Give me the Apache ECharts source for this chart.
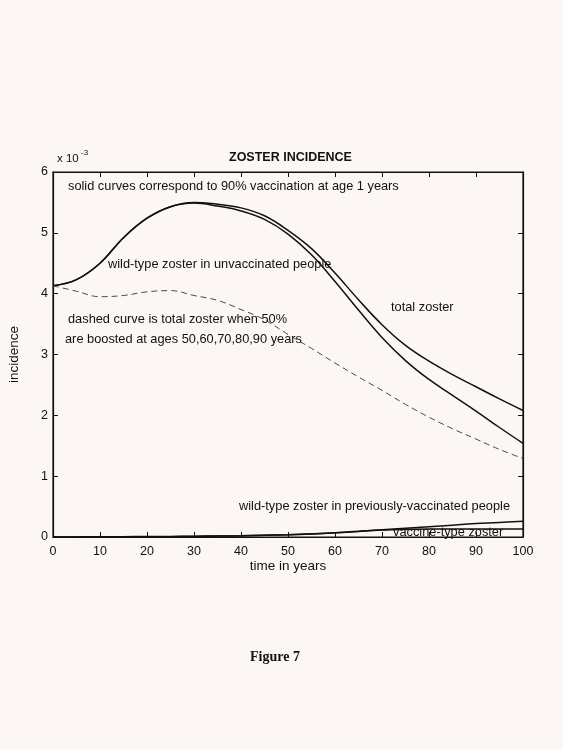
<!DOCTYPE html>
<html>
<head>
<meta charset="utf-8">
<script src="https://cdn.jsdelivr.net/npm/echarts@6/dist/echarts.min.js"></script>
<style>
  html, body { margin: 0; padding: 0; background: #fcf7f4; }
  #chart { width: 563px; height: 750px; }
</style>
</head>
<body>
<div id="chart"></div>
<script>
// time in years
const years = [0, 5, 10, 15, 20, 25, 30, 35, 40, 45, 50, 55, 60, 65, 70, 75, 80, 85, 90, 95, 100];
// incidence, in units of 1e-3
const totalZoster = [4.13, 4.23, 4.50, 4.92, 5.24, 5.43, 5.50, 5.47, 5.41, 5.28, 5.04, 4.74, 4.34, 3.90, 3.49, 3.15, 2.89, 2.67, 2.47, 2.27, 2.08];
const wildUnvacc = [4.13, 4.23, 4.50, 4.92, 5.24, 5.43, 5.49, 5.44, 5.36, 5.22, 4.98, 4.64, 4.20, 3.73, 3.28, 2.90, 2.59, 2.33, 2.07, 1.80, 1.54];
const boostedTotal = [4.13, 4.04, 3.95, 3.97, 4.03, 4.05, 3.97, 3.89, 3.74, 3.57, 3.33, 3.10, 2.86, 2.63, 2.41, 2.18, 1.97, 1.78, 1.61, 1.44, 1.29];
const wildPrevVacc = [0, 0, 0, 0, 0.003, 0.006, 0.01, 0.015, 0.02, 0.028, 0.037, 0.05, 0.068, 0.092, 0.12, 0.145, 0.17, 0.195, 0.22, 0.24, 0.26];
const vaccineType = [0, 0.002, 0.004, 0.006, 0.008, 0.01, 0.013, 0.016, 0.02, 0.028, 0.038, 0.052, 0.07, 0.095, 0.115, 0.125, 0.13, 0.13, 0.13, 0.13, 0.13];
const xTicks = [0, 10, 20, 30, 40, 50, 60, 70, 80, 90, 100];
const yTicks = [0, 1, 2, 3, 4, 5, 6];

const font = 'Liberation Sans, Arial, sans-serif';
const chart = echarts.init(document.getElementById('chart'));

const pairs = arr => years.map((t, i) => [t, arr[i]]);
const line = (name, arr, dashed, axis) => ({
    name: name,
    type: 'line',
    xAxisIndex: axis || 0,
    yAxisIndex: axis || 0,
    data: pairs(arr),
    smooth: 0.4,
    symbol: 'none',
    silent: true,
    lineStyle: dashed
        ? {color: '#333', width: 0.9, type: [6, 4]}
        : {color: '#111', width: 1.5},
});

const axisBase = {
    type: 'value',
    axisLine: {show: true, onZero: false, lineStyle: {color: '#111', width: 1.2}},
    axisTick: {show: true, inside: true, length: 5, lineStyle: {color: '#111'}},
    splitLine: {show: false},
};
const xRange = {min: xTicks[0], max: xTicks[xTicks.length - 1], interval: 10};
const yRange = {min: yTicks[0], max: yTicks[yTicks.length - 1], interval: 1};

const note = (x, y, text, extra) => ({
    type: 'text',
    left: x,
    top: y,
    style: Object.assign({text: text, fill: '#111', font: '12.8px ' + font}, extra || {}),
});

chart.setOption({
    backgroundColor: '#fcf7f4',
    animation: false,
    grid: {left: 53, right: 40, top: 172, bottom: 213, outerBoundsMode: 'none',
        show: true, borderColor: '#111', borderWidth: 1.2},
    xAxis: [
        Object.assign({}, axisBase, xRange, {
            position: 'bottom',
            axisLabel: {color: '#111', fontSize: 12.5, fontFamily: font, margin: 8},
            name: 'time in years', nameLocation: 'middle', nameGap: 20,
            nameTextStyle: {color: '#111', fontSize: 13.5, fontFamily: font},
        }),
        Object.assign({}, axisBase, xRange, {
            position: 'top', axisLabel: {show: false},
        }),
    ],
    yAxis: [
        Object.assign({}, axisBase, yRange, {
            position: 'left',
            axisLabel: {color: '#111', fontSize: 12.5, fontFamily: font, margin: 5},
            name: 'incidence', nameLocation: 'middle', nameGap: 32, nameRotate: 90,
            nameTextStyle: {color: '#111', fontSize: 13.5, fontFamily: font},
        }),
        Object.assign({}, axisBase, yRange, {
            position: 'right', axisLabel: {show: false},
        }),
    ],
    series: [
        line('total zoster', totalZoster, false),
        line('wild-type zoster in unvaccinated people', wildUnvacc, false),
        line('dashed curve', boostedTotal, true),
        line('wild-type zoster in previously-vaccinated people', wildPrevVacc, false),
        line('vaccine-type zoster', vaccineType, false, 1),
    ],
    graphic: [
        note(229, 151, 'ZOSTER INCIDENCE', {font: 'bold 12.5px ' + font}),
        note(57, 153, 'x 10', {font: '11.5px ' + font}),
        note(81, 149, '-3', {font: '8px ' + font}),
        note(68, 180, 'solid curves correspond to 90% vaccination at age 1 years'),
        note(108, 258, 'wild-type zoster in unvaccinated people'),
        note(391, 301, 'total zoster'),
        note(68, 313, 'dashed curve is total zoster when 50%'),
        note(65, 333, 'are boosted at ages 50,60,70,80,90 years'),
        note(239, 500, 'wild-type zoster in previously-vaccinated people'),
        note(393, 526, 'vaccine-type zoster'),
        note(250, 650, 'Figure 7', {font: 'bold 14px Liberation Serif, Times New Roman, serif'}),
    ],
});
</script>
</body>
</html>
